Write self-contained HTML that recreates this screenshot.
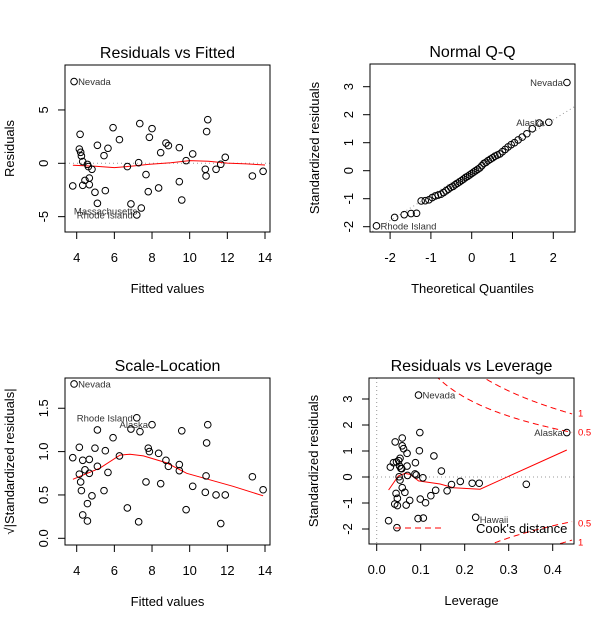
<!DOCTYPE html>
<html><head><meta charset="utf-8"><style>
html,body{margin:0;padding:0;background:#fff;width:608px;height:626px;overflow:hidden;}
svg{display:block;font-family:"Liberation Sans",Arial,sans-serif;}
</style></head><body>
<svg id="chart" width="608" height="626" viewBox="0 0 608 626" xmlns="http://www.w3.org/2000/svg"></svg>
<script>
// Panel 1: Residuals vs Fitted
const p1Fitted = [3.86,4.18,4.14,4.21,4.25,4.32,4.57,4.62,4.81,4.67,4.44,4.32,4.67,3.79,4.97,5.1,5.1,5.45,5.52,5.66,5.93,6.27,6.69,6.88,7.19,7.43,7.29,7.35,7.68,7.8,7.86,8.0,8.35,8.46,8.74,8.87,9.45,9.45,9.58,9.81,10.16,10.83,10.87,10.9,10.96,11.4,11.65,11.89,13.33,13.9];
const p1Resid = [7.66,2.72,1.34,1.03,0.69,0.16,-0.1,-0.31,-0.56,-1.38,-1.6,-2.06,-2.0,-2.12,-2.72,-3.75,1.69,0.72,-2.56,1.41,3.34,2.22,-0.31,-3.81,-4.84,-4.19,0.06,3.72,-1.06,-2.66,2.44,3.25,-2.31,1.0,1.9,1.66,1.47,-1.72,-3.44,0.25,0.88,-0.56,-1.19,2.97,4.09,-0.56,-0.09,0.56,-1.19,-0.75];
const p1SmoothX = [3.8,5,6,7,7.8,9,10,11,12,13,14];
const p1SmoothY = [-0.19,-0.28,-0.4,-0.25,-0.1,0.05,0.25,0.2,0.02,-0.06,-0.16];
const p1XTicks = [4,6,8,10,12,14];
const p1YTicks = [-5,0,5];

// Panel 2: Normal Q-Q (sorted standardized residuals)
const p2StdRes = [-1.97,-1.67,-1.57,-1.53,-1.52,-1.08,-1.07,-1.04,-0.96,-0.9,-0.87,-0.84,-0.78,-0.72,-0.66,-0.6,-0.56,-0.5,-0.45,-0.4,-0.35,-0.3,-0.24,-0.2,-0.15,-0.1,-0.05,0.0,0.05,0.1,0.18,0.26,0.3,0.36,0.41,0.46,0.52,0.56,0.6,0.68,0.76,0.85,0.93,1.0,1.1,1.2,1.32,1.5,1.70,1.73,3.15];
const p2XTicks = [-2,-1,0,1,2];
const p2YTicks = [-2,-1,0,1,2,3];

// Panel 3: Scale-Location
const p3Fitted = [3.86,3.79,4.14,4.14,4.21,4.25,4.32,4.44,4.32,4.57,4.57,4.67,4.67,4.81,4.97,5.1,5.1,5.45,5.52,5.66,5.93,6.27,6.69,6.88,7.19,7.36,8.0,7.29,7.68,7.8,7.86,8.35,8.46,8.74,8.87,9.45,9.45,9.58,9.81,10.16,10.83,10.87,10.9,10.96,11.4,11.65,11.89,13.33,13.9];
const p3SqrtStd = [1.78,0.93,1.05,0.74,0.65,0.55,0.9,0.79,0.27,0.4,0.2,0.91,0.75,0.49,1.04,1.25,0.83,0.55,1.01,0.76,1.16,0.95,0.35,1.26,1.39,1.23,1.31,0.19,0.65,1.04,1.0,0.98,0.63,0.9,0.83,0.85,0.78,1.24,0.33,0.6,0.53,0.72,1.1,1.31,0.5,0.17,0.5,0.71,0.56];
const p3SmoothX = [3.8,5.24,6.3,6.83,7.54,8.78,9.84,12.3,13.9];
const p3SmoothY = [0.68,0.81,0.96,0.97,0.95,0.87,0.75,0.6,0.49];
const p3XTicks = [4,6,8,10,12,14];
const p3YTicks = [0,0.5,1,1.5];
const p3YTickLabels = ["0.0","0.5","1.0","1.5"];

// Panel 4: Residuals vs Leverage
const p4Lev = [0.095,0.098,0.042,0.058,0.058,0.061,0.097,0.069,0.13,0.053,0.05,0.045,0.038,0.088,0.031,0.052,0.055,0.057,0.069,0.147,0.087,0.09,0.07,0.105,0.053,0.051,0.19,0.17,0.217,0.233,0.34,0.058,0.064,0.044,0.134,0.16,0.047,0.099,0.123,0.075,0.111,0.041,0.047,0.067,0.027,0.094,0.106,0.225,0.046,0.432];
const p4Std = [3.15,1.71,1.35,1.5,1.2,1.09,1.01,0.91,0.81,0.72,0.63,0.58,0.55,0.55,0.38,0.42,0.33,0.32,0.42,0.23,0.12,0.08,0.06,-0.03,-0.12,0.01,-0.17,-0.29,-0.24,-0.24,-0.28,-0.41,-0.59,-0.63,-0.51,-0.53,-0.82,-0.85,-0.72,-0.9,-0.99,-1.04,-1.1,-1.08,-1.68,-1.6,-1.58,-1.55,-1.95,1.71];
const p4SmoothX = [0.027,0.049,0.064,0.076,0.095,0.144,0.174,0.235,0.432];
const p4SmoothY = [-0.5,0.04,0.14,0.1,-0.15,-0.27,-0.41,-0.47,1.04];
const p4XTicks = [0,0.1,0.2,0.3,0.4];
const p4XTickLabels = ["0.0","0.1","0.2","0.3","0.4"];
const p4YTicks = [-2,-1,0,1,2,3];
const cookLevels = [0.5,1];
const cookP = 4.7;

const NS="http://www.w3.org/2000/svg";
const svg=document.getElementById('chart');
function mk(tag,attrs,parent){const e=document.createElementNS(NS,tag);for(const k in attrs)e.setAttribute(k,attrs[k]);(parent||svg).appendChild(e);return e;}
function txt(s,attrs,parent){const e=mk('text',attrs,parent);e.textContent=s;return e;}

function qnorm(p){
  const a=[-39.69683028665376,220.9460984245205,-275.9285104469687,138.357751867269,-30.66479806614716,2.506628277459239];
  const b=[-54.47609879822406,161.5858368580409,-155.6989798598866,66.80131188771972,-13.28068155288572];
  const c=[-0.007784894002430293,-0.3223964580411365,-2.400758277161838,-2.549732539343734,4.374664141464968,2.938163982698783];
  const d=[0.007784695709041462,0.3224671290700398,2.445134137142996,3.754408661907416];
  let q,r;
  if(p<0.02425){q=Math.sqrt(-2*Math.log(p));return (((((c[0]*q+c[1])*q+c[2])*q+c[3])*q+c[4])*q+c[5])/((((d[0]*q+d[1])*q+d[2])*q+d[3])*q+1);}
  if(p>1-0.02425){q=Math.sqrt(-2*Math.log(1-p));return -(((((c[0]*q+c[1])*q+c[2])*q+c[3])*q+c[4])*q+c[5])/((((d[0]*q+d[1])*q+d[2])*q+d[3])*q+1);}
  q=p-0.5;r=q*q;return (((((a[0]*r+a[1])*r+a[2])*r+a[3])*r+a[4])*r+a[5])*q/(((((b[0]*r+b[1])*r+b[2])*r+b[3])*r+b[4])*r+1);
}

function panel(cfg){
  const g=mk('g',{});
  
  
  const [x0,y0,x1,y1]=cfg.box;
  const title=txt(cfg.title,{x:(x0+x1)/2,y:y0-7,'text-anchor':'middle','font-size':16},g);
  
  
  cfg.xt.forEach((v,i)=>{
    const X=cfg.sx(v);
    mk('line',{x1:X,y1:y1,x2:X,y2:y1+7,stroke:'#000','stroke-width':1},g);
    const t=txt(cfg.xtl?cfg.xtl[i]:String(v),{x:X,y:y1+30,'text-anchor':'middle','font-size':13},g);
    
    
  });
  mk('line',{x1:cfg.sx(cfg.xt[0]),y1:y1,x2:cfg.sx(cfg.xt[cfg.xt.length-1]),y2:y1,stroke:'#000'},g);
  cfg.yt.forEach((v,i)=>{
    const Y=cfg.sy(v);
    mk('line',{x1:x0-7,y1:Y,x2:x0,y2:Y,stroke:'#000','stroke-width':1},g);
    const t=txt(cfg.ytl?cfg.ytl[i]:String(v),{x:0,y:0,'text-anchor':'middle','font-size':13,transform:`translate(${x0-17},${Y}) rotate(-90)`},g);
    
    
  });
  const xl=txt(cfg.xlab,{x:(x0+x1)/2,y:y1+61,'text-anchor':'middle','font-size':13},g);
  
  
  const yl=txt(cfg.ylab,{x:0,y:0,'text-anchor':'middle','font-size':13,transform:`translate(${x0-51},${(y0+y1)/2}) rotate(-90)`},g);
  
  
  const clipId='clip'+cfg.name;
  const cp=mk('clipPath',{id:clipId},g);mk('rect',{x:x0,y:y0,width:x1-x0,height:y1-y0},cp);
  const plot=mk('g',{'clip-path':`url(#${clipId})`},g);
  const outer=mk('g',{},g);
  const bx=mk('rect',{x:x0,y:y0,width:x1-x0,height:y1-y0,fill:'none',stroke:'#000','stroke-width':1},g);
  
  
  return {g,plot,outer};
}
function points(parent,xs,ys,sx,sy){
  for(let i=0;i<Math.min(xs.length,ys.length);i++){
    const c=mk('circle',{cx:sx(xs[i]),cy:sy(ys[i]),r:3.3,fill:'none',stroke:'#000','stroke-width':1},parent);
    
    
  }
}
function line(parent,xs,ys,sx,sy,attrs){
  const d=xs.map((v,i)=>(i?'L':'M')+sx(v).toFixed(1)+','+sy(ys[i]).toFixed(1)).join('');
  return mk('path',Object.assign({d:d,fill:'none'},attrs),parent);
}
function label(parent,s,X,Y,anchor){
  const t=txt(s,{x:X,y:Y+3.5,'text-anchor':anchor,'font-size':9.5,fill:'#333'},parent);
  
  
}

{
  const sx=v=>76.7+(v-4)*18.83, sy=v=>163.3-v*10.67;
  const P=panel({name:'residuals-vs-fitted',box:[65,65,270,232],title:'Residuals vs Fitted',xlab:'Fitted values',ylab:'Residuals',xt:p1XTicks,yt:p1YTicks,sx,sy});
  mk('line',{x1:65,y1:sy(0),x2:270,y2:sy(0),stroke:'#999','stroke-dasharray':'1,3'},P.plot);
  points(P.outer,p1Fitted,p1Resid,sx,sy);
  const l=line(P.plot,p1SmoothX,p1SmoothY,sx,sy,{stroke:'#f00','stroke-width':1});
  
  
  label(P.outer,'Nevada',sx(3.86)+4,sy(7.66),'start');
  label(P.outer,'Massachusetts',sx(7.43)-4,sy(-4.19)+3,'end');
  label(P.outer,'Rhode Island',sx(7.19)-4,sy(-4.84),'end');
}
{
  const sx=v=>471.7+v*40.8, sy=v=>170.7-v*28;
  const P=panel({name:'normal-qq',box:[370,64,575,232],title:'Normal Q-Q',xlab:'Theoretical Quantiles',ylab:'Standardized residuals',xt:p2XTicks,yt:p2YTicks,sx,sy});
  const n=p2StdRes.length;
  const qs=p2StdRes.map((v,i)=>qnorm((i+0.5)/n));
  mk('line',{x1:sx(-2.6),y1:sy(0.02-0.9*2.6),x2:sx(2.6),y2:sy(0.02+0.9*2.6),stroke:'#999','stroke-dasharray':'1,3'},P.plot);
  points(P.outer,qs,p2StdRes,sx,sy);
  label(P.outer,'Nevada',sx(qs[n-1])-4,sy(p2StdRes[n-1]),'end');
  label(P.outer,'Alaska',sx(qs[n-2])-4,sy(p2StdRes[n-2]),'end');
  label(P.outer,'Rhode Island',sx(qs[0])+4,sy(p2StdRes[0]),'start');
}
{
  const sx=v=>76.7+(v-4)*18.83, sy=v=>538.3-v*86.7;
  const P=panel({name:'scale-location',box:[65,378,270,545],title:'Scale-Location',xlab:'Fitted values',ylab:'\u221A|Standardized residuals|',xt:p3XTicks,yt:p3YTicks,ytl:p3YTickLabels,sx,sy});
  points(P.outer,p3Fitted,p3SqrtStd,sx,sy);
  const l=line(P.plot,p3SmoothX,p3SmoothY,sx,sy,{stroke:'#f00','stroke-width':1});
  
  
  label(P.outer,'Nevada',sx(3.86)+4,sy(1.78),'start');
  label(P.outer,'Rhode Island',sx(7.19)-4,sy(1.39),'end');
  label(P.outer,'Alaska',sx(8.0)-4,sy(1.31),'end');
}
{
  const sx=v=>376.7+v*440, sy=v=>477-v*26;
  const P=panel({name:'residuals-vs-leverage',box:[369,378,574,544],title:'Residuals vs Leverage',xlab:'Leverage',ylab:'Standardized residuals',xt:p4XTicks,xtl:p4XTickLabels,yt:p4YTicks,sx,sy});
  mk('line',{x1:369,y1:sy(0),x2:574,y2:sy(0),stroke:'#999','stroke-dasharray':'1,3'},P.plot);
  mk('line',{x1:sx(0),y1:378,x2:sx(0),y2:544,stroke:'#999','stroke-dasharray':'1,3'},P.plot);
  points(P.outer,p4Lev,p4Std,sx,sy);
  const l=line(P.plot,p4SmoothX,p4SmoothY,sx,sy,{stroke:'#f00','stroke-width':1});
  
  
  cookLevels.forEach(lev=>{
    [1,-1].forEach(sgn=>{
      const hs=[],rs=[];
      for(let h=0.01;h<=0.445;h+=0.002){
        const r=sgn*Math.sqrt(lev*cookP*(1-h)/h);
        if(Math.abs(r)<=4.2){hs.push(h);rs.push(r);}
      }
      const c=line(P.plot,hs,rs,sx,sy,{stroke:'#f00','stroke-width':1,'stroke-dasharray':'6,4'});
      
      
      const r=sgn*Math.sqrt(lev*cookP*(1-0.432)/0.432);
      const t=txt(String(lev),{x:578,y:sy(r)+4,'font-size':9.5,fill:'#f00'},P.g);
      
      
    });
  });
  label(P.outer,'Nevada',sx(0.095)+4,sy(3.15),'start');
  label(P.outer,'Alaska',sx(0.432)-4,sy(1.71),'end');
  label(P.outer,'Hawaii',sx(0.225)+4,sy(-1.55)+2,'start');
  const lg=mk('g',{},P.g);
  
  
  mk('line',{x1:395,y1:528,x2:444,y2:528,stroke:'#f00','stroke-dasharray':'6,4'},lg);
  txt("Cook's distance",{x:476,y:533,'font-size':13,fill:'#000'},lg);
}
</script>
</body></html>
